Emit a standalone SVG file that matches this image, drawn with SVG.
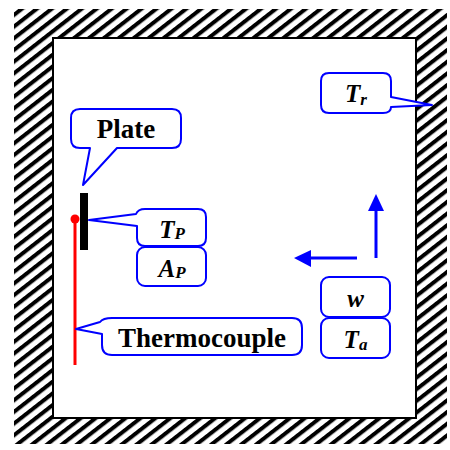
<svg xmlns="http://www.w3.org/2000/svg" width="450" height="450" viewBox="0 0 450 450">
<defs>
<pattern id="hatch" width="9.2" height="10" patternUnits="userSpaceOnUse" patternTransform="rotate(52)">
<rect width="4" height="10" fill="#000"/>
</pattern>
<style>
.co{fill:#fff;stroke:#0000ff;stroke-width:2;stroke-linejoin:round}
.lbl{font-family:"Liberation Serif","Times New Roman",serif;font-weight:bold;fill:#000}
.math{font-family:"Liberation Serif","Times New Roman",serif;font-weight:bold;font-style:italic;font-size:25px;fill:#000}
.sub{font-size:17px}
.flow{stroke:#0000ff;stroke-width:3;fill:none}
.head{fill:#0000ff}
</style>
</defs>
<rect width="450" height="450" fill="#fff"/>
<g id="room">
<rect x="14" y="9" width="433" height="435" fill="url(#hatch)"/>
<rect x="53" y="38" width="363" height="380" fill="#fff" stroke="#000" stroke-width="2"/>
</g>
<g id="thermocouple-wire">
<line x1="75" y1="219" x2="75" y2="365" stroke="#ff0000" stroke-width="3"/>
</g>
<g id="plate">
<rect x="80" y="193" width="8" height="57" fill="#000"/>
<circle cx="75" cy="219" r="4.5" fill="#ff0000"/>
</g>
<g id="connectors">
<line class="flow" x1="376" y1="258" x2="376" y2="208"/>
<polygon class="head" points="376,194 384,211 368,211"/>
<line class="flow" x1="357" y1="258" x2="308" y2="258"/>
<polygon class="head" points="294,258 311,250 311,267"/>
</g>
<g id="plate-label">
<path class="co" d="M80 109 H172 Q181 109 181 118 V139 Q181 148 172 148 H117 L83 185 L90 148 H80 Q71 148 71 139 V118 Q71 109 80 109 Z"/>
<text class="lbl" x="126" y="138" font-size="27" text-anchor="middle">Plate</text>
</g>
<g id="tp-label">
<path class="co" d="M145 209 H198 Q206 209 206 217 V238 Q206 246 198 246 H145 Q137 246 137 238 V226 L89 220 L136 214 Q138 209 145 209 Z"/>
<text class="math" x="172" y="238" text-anchor="middle">T<tspan class="sub" dy="1">P</tspan></text>
</g>
<g id="ap-label">
<rect class="co" x="137" y="247" width="69" height="39" rx="8"/>
<text class="math" x="172" y="277" text-anchor="middle">A<tspan class="sub" dy="1">P</tspan></text>
</g>
<g id="thermocouple-label">
<path class="co" d="M112 318 H292 Q302 318 302 328 V345 Q302 355 292 355 H112 Q102 355 102 345 V334 L76 329 L100 322 Q103 318 112 318 Z"/>
<text class="lbl" x="202" y="347" font-size="27" text-anchor="middle">Thermocouple</text>
</g>
<g id="tr-label">
<path class="co" d="M329 73 H383 Q391 73 391 81 V97 L432 105 L391 107 Q391 113 383 113 H329 Q321 113 321 105 V81 Q321 73 329 73 Z"/>
<text class="math" x="356" y="102" text-anchor="middle">T<tspan class="sub" dy="3">r</tspan></text>
</g>
<g id="w-label">
<rect class="co" x="321" y="277" width="69" height="40" rx="8"/>
<text class="math" x="355.5" y="307" text-anchor="middle">w</text>
</g>
<g id="ta-label">
<rect class="co" x="321" y="318" width="69" height="40" rx="8"/>
<text class="math" x="355.5" y="348" text-anchor="middle">T<tspan class="sub" dy="2">a</tspan></text>
</g>
</svg>
